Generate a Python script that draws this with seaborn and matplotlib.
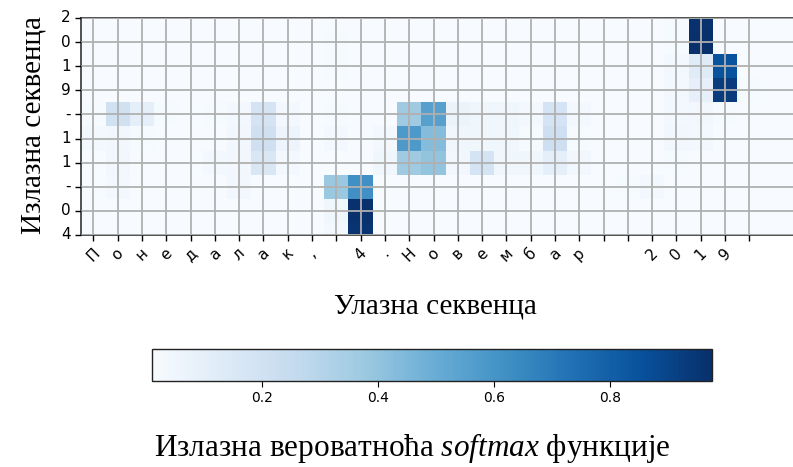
import numpy as np
import pandas as pd
import seaborn as sns
import matplotlib.pyplot as plt

input_chars = ['П', 'о', 'н', 'е', 'д', 'а', 'л', 'а', 'к', ',', ' ', '4', '.', 'Н',
               'о', 'в', 'е', 'м', 'б', 'а', 'р', ' ', ' ', '2', '0', '1', '9', ' ']
output_chars = ['2', '0', '1', '9', '-', '1', '1', '-', '0', '4']
cbar_ticks = [0.2, 0.4, 0.6, 0.8]

# attention weights, one row per output character, 30 input positions (padded)
att_2 = [.01, .01, .01, .01, .01, .01, .01, .01, .01, .01, .01, .01, .01, .01, .01,
         .01, .01, .01, .01, .01, .01, .01, .01, .01, .02, .97, .01, .01, .01, .01]
att_0a = [.01, .01, .01, .01, .01, .01, .01, .01, .01, .01, .02, .01, .01, .01, .01,
          .01, .01, .01, .01, .01, .01, .01, .01, .01, .02, .976, .01, .01, .01, .01]
att_1a = [.01, .01, .01, .01, .01, .01, .01, .01, .01, .01, .02, .01, .01, .01, .01,
          .01, .01, .01, .01, .01, .01, .01, .01, .01, .03, .13, .85, .01, .01, .01]
att_9 = [.01, .01, .01, .01, .01, .01, .01, .01, .01, .01, .01, .01, .01, .01, .01,
         .01, .01, .01, .01, .01, .01, .01, .01, .01, .03, .09, .93, .02, .01, .01]
att_da = [.02, .20, .10, .02, .01, .02, .03, .18, .03, .01, .02, .01, .01, .37, .55,
          .07, .05, .05, .03, .18, .03, .01, .01, .01, .03, .04, .02, .01, .01, .01]
att_1b = [.03, .04, .02, .01, .01, .01, .04, .21, .06, .01, .03, .01, .03, .58, .43,
          .05, .05, .05, .02, .22, .02, .01, .01, .01, .04, .03, .01, .01, .01, .01]
att_1c = [.01, .04, .01, .01, .01, .03, .04, .16, .03, .01, .01, .01, .05, .37, .40,
          .04, .18, .05, .05, .10, .04, .01, .01, .01, .02, .01, .01, .01, .01, .01]
att_db = [.01, .03, .01, .01, .01, .01, .04, .01, .01, .01, .38, .62, .01, .01, .01,
          .01, .01, .01, .01, .01, .01, .01, .02, .03, .01, .01, .01, .01, .01, .01]
att_0b = [.01, .01, .01, .01, .01, .01, .01, .01, .01, .01, .05, .97, .01, .01, .01,
          .01, .01, .01, .01, .01, .01, .01, .01, .01, .01, .01, .01, .01, .01, .01]
att_4 = [.01, .01, .01, .01, .01, .01, .01, .01, .01, .01, .03, .96, .01, .01, .01,
         .01, .01, .01, .01, .01, .01, .01, .01, .01, .01, .01, .01, .01, .01, .01]

df = pd.DataFrame([att_2, att_0a, att_1a, att_9, att_da,
                   att_1b, att_1c, att_db, att_0b, att_4])

plt.rcParams['mathtext.fontset'] = 'custom'
plt.rcParams['mathtext.rm'] = 'Liberation Serif'
plt.rcParams['mathtext.it'] = 'Liberation Serif:italic'
serif = {'family': 'Liberation Serif', 'size': 21}

fig = plt.figure(figsize=(7.93, 4.67), dpi=100)
ax = fig.add_axes([81.3 / 793, 1 - 235 / 467, 728.7 / 793, 217 / 467])
cax = fig.add_axes([152 / 793, 1 - 381 / 467, 560 / 793, 32 / 467])

sns.heatmap(df, ax=ax, cmap='Blues', cbar_ax=cax,
            cbar_kws={'orientation': 'horizontal', 'ticks': cbar_ticks})

for s in ax.spines.values():
    s.set_visible(True)
    s.set_linewidth(1.2)
    s.set_color('#333333')

ax.set_xlim(0, df.shape[1])
ax.set_ylim(len(output_chars) - 0.5, 0.5)
ax.set_xticks(np.arange(len(input_chars)) + 0.5)
ax.set_xticklabels(input_chars, rotation=45, fontsize=11)
ax.set_yticks(np.arange(len(output_chars)) + 0.5)
ax.set_yticklabels(output_chars, rotation=0, fontsize=11)
ax.tick_params(length=4, width=1)
ax.grid(True, color='#b0b0b0', linewidth=1.3)
ax.set_axisbelow(False)

ax.set_xlabel('Улазна секвенца', fontdict=serif)
ax.xaxis.set_label_coords(0.4854, -0.268)
ax.set_ylabel('Излазна секвенца', fontdict=serif)
ax.yaxis.set_label_coords(-0.0484, 0.507)

cbar = ax.collections[0].colorbar
cbar.outline.set_linewidth(1)
cbar.outline.set_edgecolor('#222222')
cax.tick_params(labelsize=10, length=4)
cax.set_xlabel('Излазна вероватноћа $\\mathit{softmax}$ функције',
               family='Liberation Serif', size=22.5)
cax.xaxis.set_label_coords((412 - 152) / 560, -1.56)

fig.savefig('out.png', dpi=100)
